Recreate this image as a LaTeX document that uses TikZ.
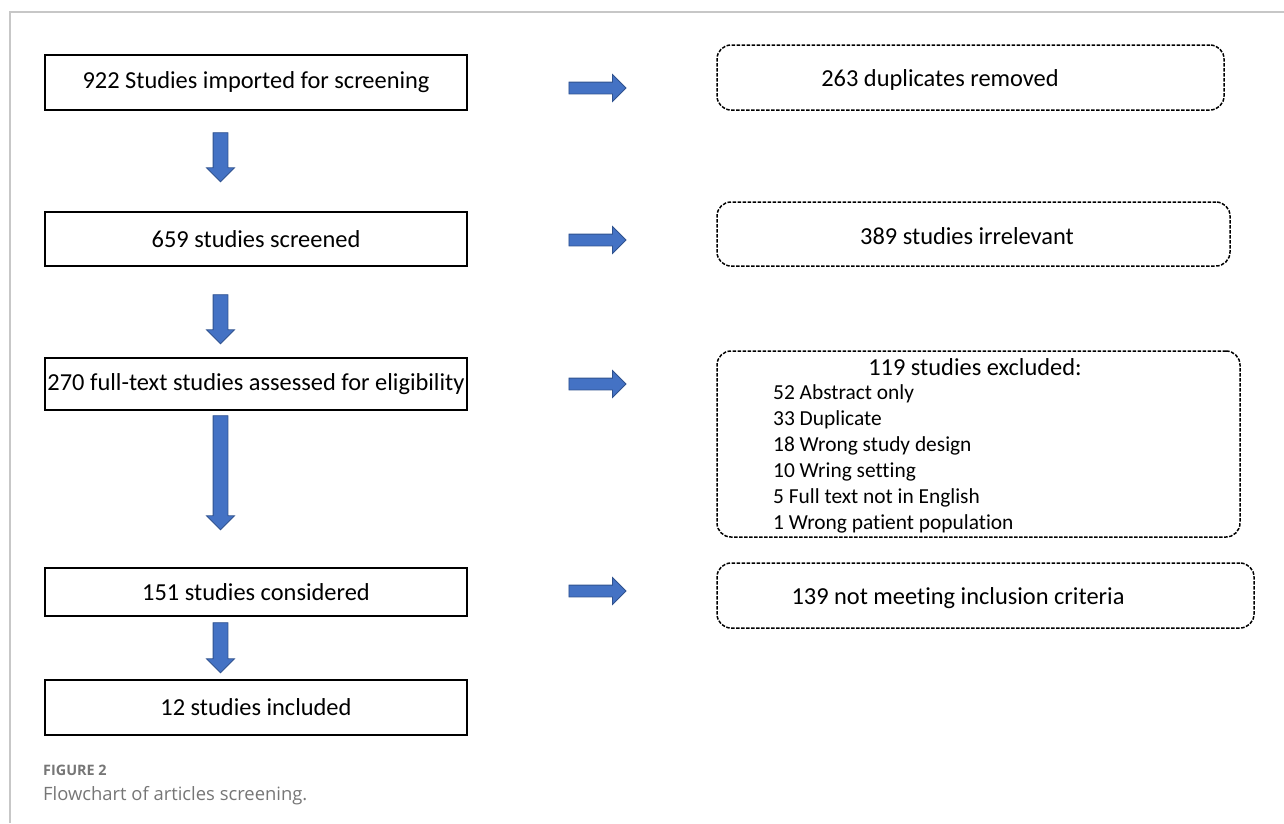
\documentclass[tikz,border=0pt]{standalone}
\usepackage{fontspec}
\setmainfont{Carlito}[Ligatures={NoCommon,NoRequired,NoContextual}]
\newfontfamily\capfont{Open Sans}
\usetikzlibrary{shapes.arrows}
\definecolor{arrowblue}{HTML}{4472C4}
\definecolor{arrowedge}{HTML}{2F528F}
\definecolor{capgray}{HTML}{767676}
\tikzset{
  stagebox/.style={draw=black, line width=1.6pt, minimum width=422pt, inner sep=0pt, font=\fontsize{24.4}{28}\selectfont},
  dropbox/.style={draw=black, line width=1.5pt, dash pattern=on 3.5pt off 1.5pt, rounded corners=14pt, inner sep=0pt},
  droptext/.style={font=\fontsize{24.4}{28}\selectfont, inner sep=0pt},
  blockarrow/.style={single arrow, fill=arrowblue, draw=arrowedge, line width=0.8pt, inner xsep=0pt, single arrow tip angle=90}
}
\begin{document}
\begin{tikzpicture}[x=1pt, y=-1pt]
\useasboundingbox (0,0) rectangle (1284,823);
% Frame
\draw[line width=1.5pt, black!22] (10,823) -- (10,12) -- (1284,12);

% Left column
\node[stagebox, minimum height=55pt] (imported) at (256,82.5) {922 Studies imported for screening};
\node[stagebox, minimum height=54pt] (screened) at (256,239) {659 studies screened};
\node[stagebox, minimum height=52pt] (assessed) at (256,384) {270 full-text studies assessed for eligibility};
\node[stagebox, minimum height=48pt] (considered) at (256,592) {151 studies considered};
\node[stagebox, minimum height=55pt] (included) at (256,707.5) {12 studies included};

% Right column (dashed)
\node[dropbox, minimum width=507pt, minimum height=65pt] (dupl) at (970.5,77.5) {};
\node[droptext] (dupltxt) at (940,80) {263 duplicates removed};
\node[dropbox, minimum width=513pt, minimum height=64pt] (irrel) at (973.5,234) {};
\node[droptext] (irreltxt) at (967,236) {389 studies irrelevant};
\node[dropbox, minimum width=523pt, minimum height=186pt] (excl) at (978.5,444) {};
\node[droptext] (excltxt) at (975,367) {119 studies excluded:};
\foreach \y/\reason in {394/52 Abstract only, 420/33 Duplicate, 446/18 Wrong study design,
  472/10 Wring setting, 498/5 Full text not in English, 524/1 Wrong patient population}
  \node[droptext, anchor=west, font=\fontsize{21.4}{25}\selectfont] at (773,\y) {\reason};
\node[dropbox, minimum width=537pt, minimum height=65pt] (notmeet) at (985.5,595.5) {};
\node[droptext] (notmeettxt) at (958,598) {139 not meeting inclusion criteria};

% Block arrows to the right
\foreach \y [count=\i] in {88,240,384,591}
  \node[blockarrow, inner ysep=5.5pt, single arrow head extend=7.5pt, minimum height=57pt] (side\i) at (594.5,\y) {};

% Block arrows down
\foreach \ya/\yb [count=\i] in {132/181, 294/343, 415/529, 622/672}
  \node[blockarrow, rotate=-90, inner ysep=7pt, single arrow head extend=6.5pt, minimum height={\yb-\ya}] (down\i) at (220.5,{(\ya+\yb)/2-3}) {};

% Caption
\node[anchor=base west, inner sep=0pt, text=capgray, font=\capfont\bfseries\fontsize{14.4}{17}\selectfont] (figlabel) at (43,775) {FIGURE 2};
\node[anchor=base west, inner sep=0pt, text=capgray, font=\capfont\fontsize{18.4}{22}\selectfont] (figcap) at (43,800) {Flowchart of articles screening.};
\end{tikzpicture}
\end{document}
